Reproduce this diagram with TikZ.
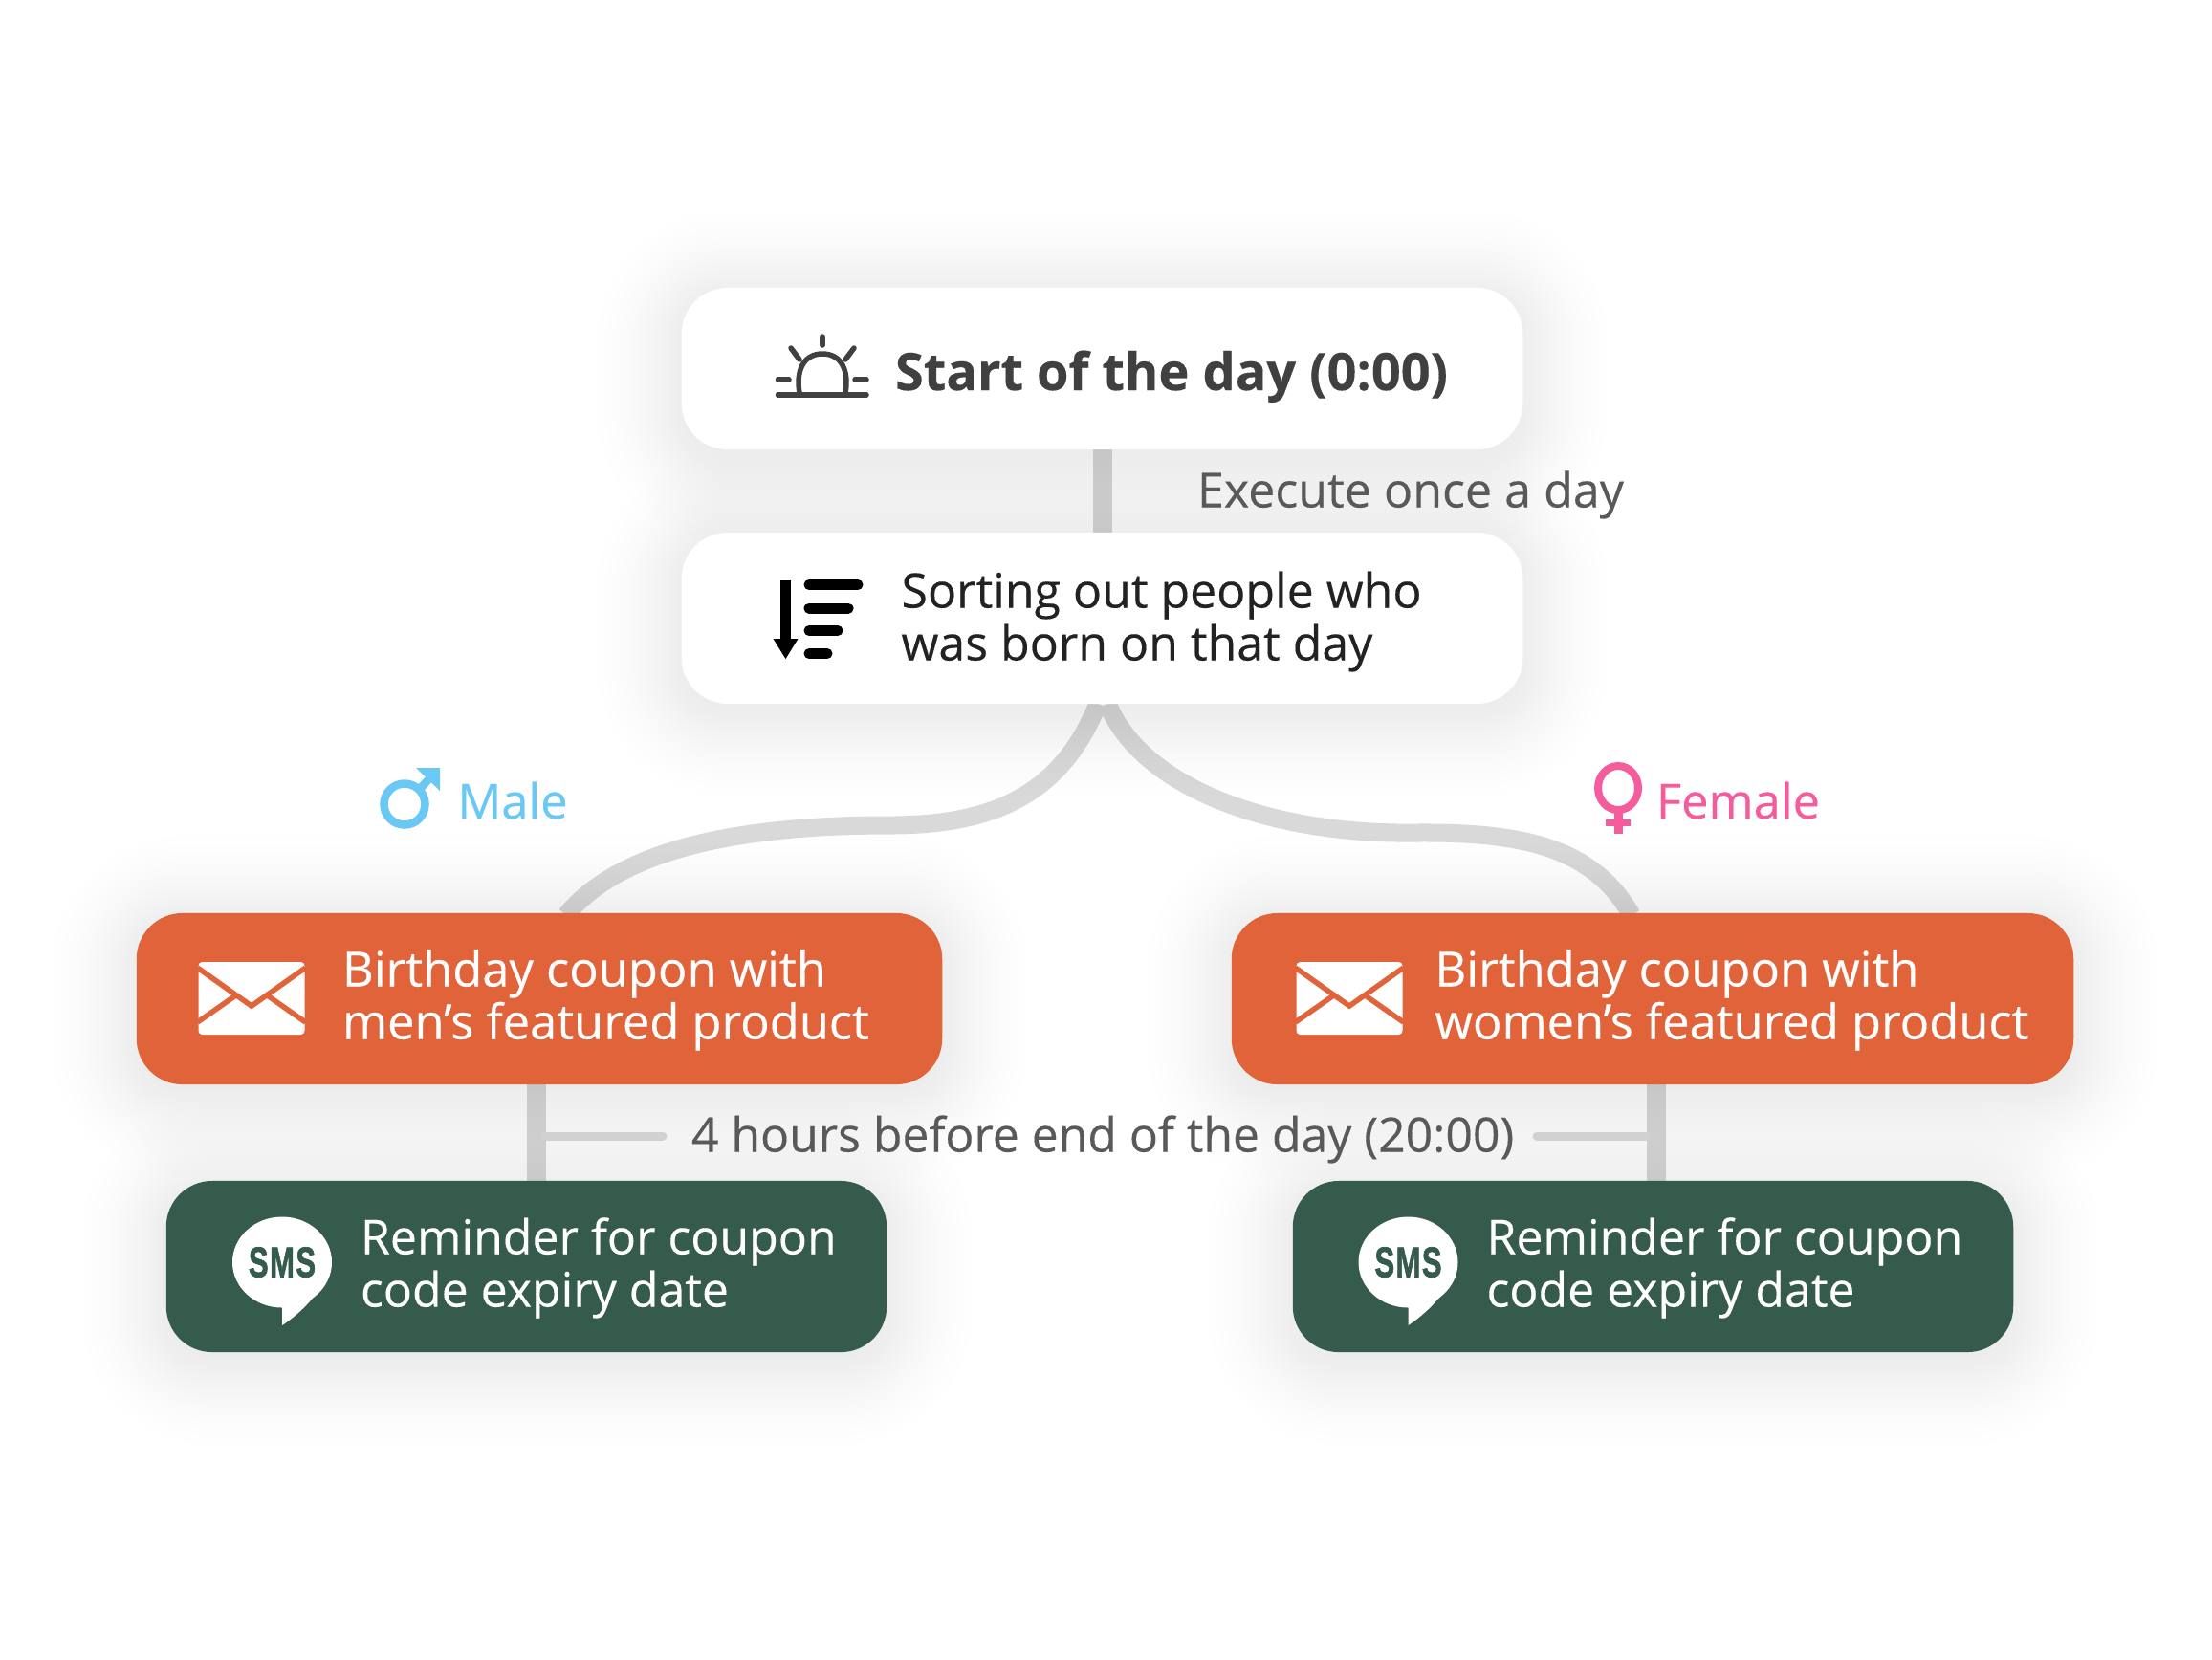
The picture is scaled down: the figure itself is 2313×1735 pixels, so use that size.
\documentclass[tikz,border=0pt]{standalone}
\usepackage{fontspec}
\setmainfont{Open Sans}[FakeBold=0.25]
\newfontfamily\smsfont{Liberation Sans}[BoldFeatures={FakeBold=1.6,LetterSpace=4}]
\pgfdeclarelayer{connlayer}
\pgfdeclarelayer{shadlayer}
\pgfsetlayers{connlayer,shadlayer,main}
\definecolor{orangebox}{HTML}{E06339}
\definecolor{greenbox}{HTML}{345B4C}
\definecolor{conn}{HTML}{D9D9D9}
\definecolor{darktext}{HTML}{404040}
\definecolor{graytext}{HTML}{595959}
\definecolor{blacktext}{HTML}{222222}
\definecolor{malec}{HTML}{6AC8F5}
\definecolor{femalec}{HTML}{F55C9E}
\newcommand{\softshadow}[1]{%
  \foreach \o in {-5,0,5,10,14,18,22,26,30,34,38,42,47,52,58,64,71,79,88}{%
    \pgfmathsetmacro{\rr}{max(48+\o,5)*0.01}
    \fill[black,opacity=0.0025,rounded corners=\rr cm]
      ([shift={(-\o,-\o+8)}]#1.north west) rectangle ([shift={(\o,\o+8)}]#1.south east);
  }}
\tikzset{
  x=0.01cm,y=-0.01cm,
  boxbase/.style={inner sep=0pt,outer sep=0pt,rounded corners=0.48cm,draw=none},
  whitebox/.style={boxbase,fill=white},
  orangenode/.style={boxbase,fill=orangebox},
  greennode/.style={boxbase,fill=greenbox},
  bodytext/.style={inner sep=0pt,outer sep=0pt,anchor=base west,align=left,font=\fontsize{14.22pt}{15.65pt}\selectfont},
  orangetext/.style={bodytext,text=white,font=\fontsize{14.4pt}{15.65pt}\selectfont},
  wire/.style={conn,line width=0.2cm},
  curvewire/.style={conn,line width=0.19cm},
  tick/.style={conn!90!white,line width=0.09cm,line cap=round},
  sunline/.style={darktext,line width=0.055cm,line cap=round},
  sortbar/.style={black,line width=0.11cm,line cap=round},
  envline/.style={orangebox,line width=0.055cm},
}
\newcommand{\envelope}[1]{%
  \begin{scope}[shift={(#1,0)}]
    \fill[white,rounded corners=0.04cm] (0,1006) rectangle (111,1082);
    \draw[envline] (-1,1012) -- (55.5,1052) -- (112,1012);
    \draw[envline] (-1,1069) -- (39,1041);
    \draw[envline] (112,1069) -- (72,1041);
  \end{scope}}
\newcommand{\smsicon}[2]{%
  \fill[white] (#1,1320) ellipse [x radius=52,y radius=47.5];
  \fill[white] (#1,1360) -- (#1,1386) .. controls (#1+18,1374) and (#1+34,1358) .. (#1+44,1340) -- cycle;
  \node[inner sep=0pt,text=greenbox,xscale=0.7,font=\fontsize{12.7pt}{13pt}\smsfont\bfseries] (#2) at (#1,1320) {SMS};}
\begin{document}
\begin{tikzpicture}
\useasboundingbox (0,0) rectangle (2313,1735);

% boxes
\node[whitebox,minimum width=8.79cm,minimum height=1.69cm] (top) at (1152.5,385.5) {};
\node[whitebox,minimum width=8.79cm,minimum height=1.79cm] (sort) at (1152.5,646.5) {};
\node[orangenode,minimum width=8.42cm,minimum height=1.79cm] (ol) at (564,1044.5) {};
\node[orangenode,minimum width=8.80cm,minimum height=1.79cm] (or) at (1728,1044.5) {};
\node[greennode,minimum width=7.53cm,minimum height=1.79cm] (gl) at (550.5,1324.5) {};
\node[greennode,minimum width=7.53cm,minimum height=1.79cm] (gr) at (1728.5,1324.5) {};

% free ends
\coordinate (tickLa) at (571,1188);
\coordinate (tickLb) at (693,1188);
\coordinate (tickRa) at (1721,1188);
\coordinate (tickRb) at (1607,1188);
\coordinate (leftmid) at (930,863);
\coordinate (rightmid) at (1480,871);
\coordinate (leftstart) at (1148,736);
\coordinate (rightstart) at (1158,736);
\coordinate (leftend) at (592,957);
\coordinate (rightend) at (1706,957);
\coordinate (glt) at (560.5,1235);
\coordinate (olb) at (560.5,1133);
\coordinate (grt) at (1732,1235);
\coordinate (orb) at (1732,1133);

\begin{pgfonlayer}{connlayer}
  \draw[wire] (top.south) -- (sort.north);
  \draw[curvewire] (leftstart) .. controls (1110,830) and (1040,863) .. (leftmid)
     .. controls (800,863) and (655,880) .. (leftend);
  \draw[curvewire] (rightstart) .. controls (1195,825) and (1330,873) .. (rightmid)
     .. controls (1590,870) and (1665,885) .. (rightend);
  \draw[wire] (olb) -- (glt);
  \draw[wire] (orb) -- (grt);
  \draw[tick] (tickLa) -- (tickLb);
  \draw[tick] (tickRa) -- (tickRb);
\end{pgfonlayer}
\begin{pgfonlayer}{shadlayer}
  \softshadow{top}\softshadow{sort}\softshadow{ol}\softshadow{or}\softshadow{gl}\softshadow{gr}
\end{pgfonlayer}

% texts
\node[bodytext,text=darktext,font=\fontsize{15.38pt}{17pt}\selectfont\bfseries] (t1) at (936,408) {Start of the day (0:00)};
\node[bodytext,text=graytext,font=\fontsize{14.27pt}{16pt}\selectfont] (t2) at (1252,530.5) {Execute once a day};
\node[bodytext,text=blacktext] (t3) at (942.5,635.5) {Sorting out people who};
\node[bodytext,text=blacktext] (t3b) at (942.5,690.5) {was born on that day};
\node[bodytext,text=malec,font=\fontsize{14.4pt}{16pt}\selectfont] (tm) at (478.5,856) {Male};
\node[bodytext,text=femalec,font=\fontsize{14.4pt}{16pt}\selectfont] (tf) at (1732,856) {Female};
\node[orangetext] (o1) at (358,1031.5) {Birthday coupon with};
\node[orangetext] (o1b) at (358,1086.5) {men’s featured product};
\node[orangetext] (o2) at (1500.5,1031.5) {Birthday coupon with};
\node[orangetext] (o2b) at (1500.5,1086.5) {women’s featured product};
\node[bodytext,text=white] (g1) at (377,1311.5) {Reminder for coupon};
\node[bodytext,text=white] (g1b) at (377,1366.5) {code expiry date};
\node[bodytext,text=white] (g2) at (1554.5,1311.5) {Reminder for coupon};
\node[bodytext,text=white] (g2b) at (1554.5,1366.5) {code expiry date};
\node[bodytext,text=graytext,font=\fontsize{14.18pt}{16pt}\selectfont] (h) at (723,1204.5) {4 hours before end of the day (20:00)};

% sun icon
\draw[sunline] (813.5,413) -- (906,413);
\draw[sunline] (813.5,397) -- (825,397);
\draw[sunline] (894,397) -- (906,397);
\draw[sunline,line cap=butt] (836,411) .. controls (832,388) and (840,370) .. (860,370) .. controls (880,370) and (888,388) .. (884,411);
\draw[sunline] (860,352) -- (860,361);
\draw[sunline] (827,364) -- (836,376);
\draw[sunline] (893,364) -- (884,376);

% sort icon
\fill[black] (816,607) rectangle (827,670);
\fill[black] (808.5,668) -- (834.5,668) -- (821.5,689) -- cycle;
\draw[sortbar] (846,611.5) -- (897,611.5);
\draw[sortbar] (846,636) -- (887,636);
\draw[sortbar] (846,659.5) -- (876,659.5);
\draw[sortbar] (846,683.5) -- (865,683.5);

% male icon
\draw[malec,line width=0.085cm] (423,841) circle (21.5);
\draw[malec,line width=0.085cm] (438,826) -- (452,811);
\fill[malec] (460,803) -- (435,803) -- (460,827) -- cycle;

% female icon
\draw[femalec,line width=0.08cm] (1692,824) ellipse [x radius=21,y radius=23];
\fill[femalec] (1687.5,847) rectangle (1696.5,871.5);
\fill[femalec] (1679,856.5) rectangle (1704.5,863.5);

\envelope{207.5}
\envelope{1355.5}
\smsicon{295}{smsa}
\smsicon{1472.5}{smsb}
\end{tikzpicture}
\end{document}
